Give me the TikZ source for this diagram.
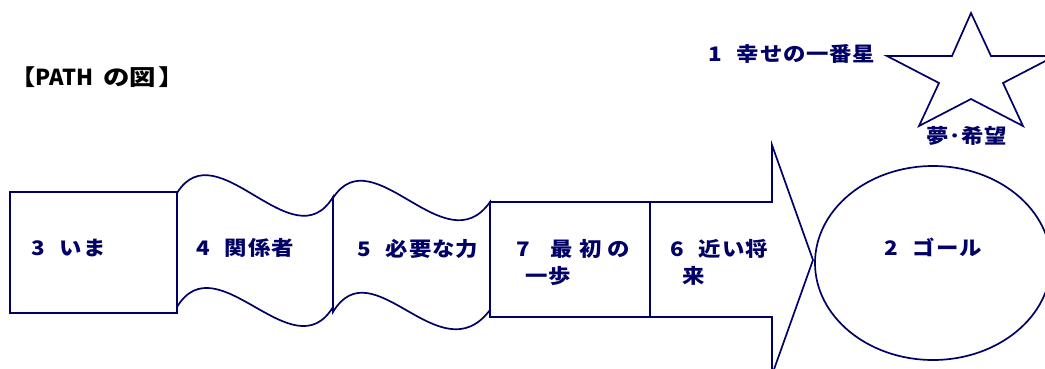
\documentclass[tikz,border=0pt]{standalone}
\usepackage{fontspec}
\setmainfont{Noto Sans CJK JP}
\definecolor{navy}{RGB}{0,0,102}
\tikzset{
  outline/.style={draw=navy, line width=1.7pt, fill=white, line join=miter},
  lbl/.style={text=navy, font=\bfseries\fontsize{20}{27}\selectfont\addfontfeatures{FakeStretch=1.12,LetterSpace=4}, inner sep=0pt, anchor=base west, align=left},
  ttl/.style={text=black, font=\bfseries\fontsize{22}{27}\selectfont, inner sep=0pt, anchor=base west}
}
\newcommand{\gapn}{\hspace{15pt}}
\newcommand{\wide}[1]{{\addfontfeatures{FakeStretch=1.2}#1}}
\begin{document}
\begin{tikzpicture}[x=1pt, y=-1pt]
\useasboundingbox (0,0) rectangle (1045,369);
% title
\node[ttl] (title) at (9,86) {\wide{【}PATH\hspace{10pt}\wide{の図}\hspace{3pt}\wide{】}};
% star
\coordinate (starc) at (971,75);
\draw[outline] (971,13) -- (991,56) -- (1055,56) -- (1003,83) -- (1023,126) -- (971,99) -- (919,126) -- (939,83) -- (887,56) -- (952,56) -- cycle;
% box 3
\draw[outline] (10,192) rectangle (177,313);
% wave 4
\draw[outline] (177,193) .. controls (217,129) and (293,263) .. (333,197)
  -- (333,307) .. controls (293,373) and (217,241) .. (177,307) -- cycle;
% wave 5
\draw[outline] (333,198) .. controls (373,136) and (445,266) .. (490,202)
  -- (490,310) .. controls (440,376) and (373,246) .. (333,312) -- cycle;
% box 7
\draw[outline] (490,202) rectangle (650,317);
% arrow 6
\draw[outline] (650,202) -- (772,202) -- (772,145) -- (813,260) -- (772,375) -- (772,317) -- (650,317) -- cycle;
% goal ellipse
\draw[outline] (933,263) ellipse [x radius=118, y radius=97];
% labels
\node[lbl] (l1) at (708,62) {1\gapn 幸せの一番星};
\node[lbl] (dream) at (926,143) {夢･希望};
\node[lbl] (l3) at (31,255) {3\gapn いま};
\node[lbl] (l4) at (196,255) {4\gapn 関係者};
\node[lbl] (l5) at (357,256) {5\gapn 必要な力};
\node[lbl] (l7) at (516,283) {7\hspace{21pt}最 初 の\\\hspace*{9pt}一歩};
\node[lbl] (l6) at (670,283) {6\gapn 近い将\\\hspace*{12pt}来};
\node[lbl] (l2) at (884,255) {2\gapn ゴール};
\end{tikzpicture}
\end{document}
